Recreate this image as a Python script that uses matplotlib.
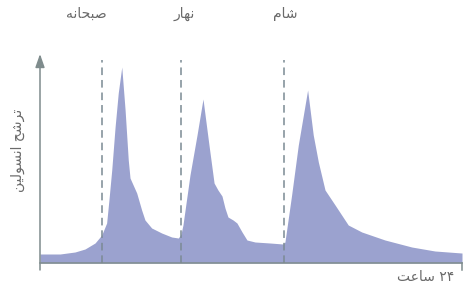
import matplotlib
matplotlib.use("Agg")
import matplotlib.pyplot as plt

# ---------------- data ----------------
# hours over 24h, insulin secretion (arbitrary units)
hours = [0.00, 1.14, 1.99, 2.56, 3.13, 3.51, 3.79, 3.92, 4.08, 4.27, 4.45, 4.65,
         4.84, 5.02, 5.12, 5.50, 5.78, 5.97, 6.35, 6.92, 7.49, 7.87, 8.02,
         8.13, 8.53, 8.93, 9.27, 9.61, 9.90, 10.12, 10.35, 10.52, 10.69,
         10.98, 11.20, 11.49, 11.77, 12.23, 13.08, 13.82, 13.93,
         14.31, 14.69, 15.22, 15.54, 15.83, 16.21, 16.78, 17.53, 18.30,
         19.62, 21.14, 22.46, 23.98, 24.00]
secretion = [9, 9, 11, 14, 20, 28, 40, 63, 93, 136, 170, 196,
             153, 103, 85, 70, 53, 43, 35, 30, 26, 25, 29,
             38, 88, 128, 164, 118, 80, 73, 67, 55, 46,
             43, 40, 31, 23, 21, 20, 19, 21,
             68, 118, 173, 128, 101, 73, 58, 38, 31,
             23, 16, 12, 10, 10]
meal_hours = [3.53, 8.02, 13.88]
meal_labels = ["صبحانه", "نهار", "شام"]
meal_label_hours = [2.65, 8.22, 13.93]
ylabel_text = "ترشح انسولین"
xlabel_word = "ساعت"
xlabel_num = "۲۴"

# ---------------- simple Persian shaping ----------------
FORMS = {
    'ا': ('\uFE8D', '\uFE8E', None, None),
    'ب': ('\uFE8F', '\uFE90', '\uFE91', '\uFE92'),
    'ت': ('\uFE95', '\uFE96', '\uFE97', '\uFE98'),
    'ح': ('\uFEA1', '\uFEA2', '\uFEA3', '\uFEA4'),
    'ر': ('\uFEAD', '\uFEAE', None, None),
    'س': ('\uFEB1', '\uFEB2', '\uFEB3', '\uFEB4'),
    'ش': ('\uFEB5', '\uFEB6', '\uFEB7', '\uFEB8'),
    'ص': ('\uFEB9', '\uFEBA', '\uFEBB', '\uFEBC'),
    'ع': ('\uFEC9', '\uFECA', '\uFECB', '\uFECC'),
    'ل': ('\uFEDD', '\uFEDE', '\uFEDF', '\uFEE0'),
    'م': ('\uFEE1', '\uFEE2', '\uFEE3', '\uFEE4'),
    'ن': ('\uFEE5', '\uFEE6', '\uFEE7', '\uFEE8'),
    'ه': ('\uFEE9', '\uFEEA', '\uFEEB', '\uFEEC'),
    'و': ('\uFEED', '\uFEEE', None, None),
    'ی': ('\uFEEF', '\uFEF0', '\uFEF3', '\uFEF4'),
}


def shape_word(word):
    out = []
    n = len(word)
    for i, ch in enumerate(word):
        if ch not in FORMS:
            out.append(ch)
            continue
        iso, fin, ini, med = FORMS[ch]
        prev = word[i - 1] if i > 0 else None
        nxt = word[i + 1] if i < n - 1 else None
        join_prev = prev in FORMS and FORMS[prev][2] is not None
        join_next = nxt in FORMS and ini is not None
        if join_prev and join_next:
            out.append(med)
        elif join_prev:
            out.append(fin)
        elif join_next:
            out.append(ini)
        else:
            out.append(iso)
    return ''.join(out)


def rtl(text):
    words = text.split(' ')
    return ' '.join(shape_word(w)[::-1] for w in reversed(words))


# ---------------- figure ----------------
W, H = 464, 285
fig = plt.figure(figsize=(W / 100, H / 100), dpi=100)
ax = fig.add_axes([40 / W, (H - 263) / H, 422 / W, 208 / H])
ax.set_xlim(0, 24)
ax.set_ylim(0, 208)
ax.axis('off')

fill_col = '#9ba2cf'
axis_col = '#7f8c8d'
dash_col = '#7b8a93'
text_col = '#6a6a6a'

ax.fill_between(hours, 0, secretion, color=fill_col, lw=0, zorder=1)

for mh in meal_hours:
    ax.plot([mh, mh], [0, 203], color=dash_col, lw=1.1, ls=(0, (5, 3.2)),
            zorder=2, clip_on=False)

# axes lines
ax.plot([0, 24], [0, 0], color=axis_col, lw=1.1, clip_on=False, zorder=3)
ax.plot([24, 24], [0, -7], color=axis_col, lw=1.1, clip_on=False, zorder=3)
ax.annotate('', xy=(0, 209), xytext=(0, -7),
            arrowprops=dict(arrowstyle='-|>,head_length=0.8,head_width=0.28',
                            color=axis_col, lw=1.1, shrinkA=0, shrinkB=0,
                            mutation_scale=10),
            annotation_clip=False, zorder=3)

fs = 10
for lx, lab in zip(meal_label_hours, meal_labels):
    ax.text(lx, 249, rtl(lab), ha='center', va='center', fontsize=fs,
            color=text_col, family='DejaVu Sans', clip_on=False)

ax.text(-1.25, 113, rtl(ylabel_text), rotation=90, ha='center', va='center',
        fontsize=fs, color=text_col, family='DejaVu Sans', clip_on=False)

ax.text(23.55, -14, rtl(xlabel_word) + ' ' + xlabel_num, ha='right', va='center',
        fontsize=fs, color=text_col, family='DejaVu Sans', clip_on=False)

fig.savefig('out.png', dpi=100)
